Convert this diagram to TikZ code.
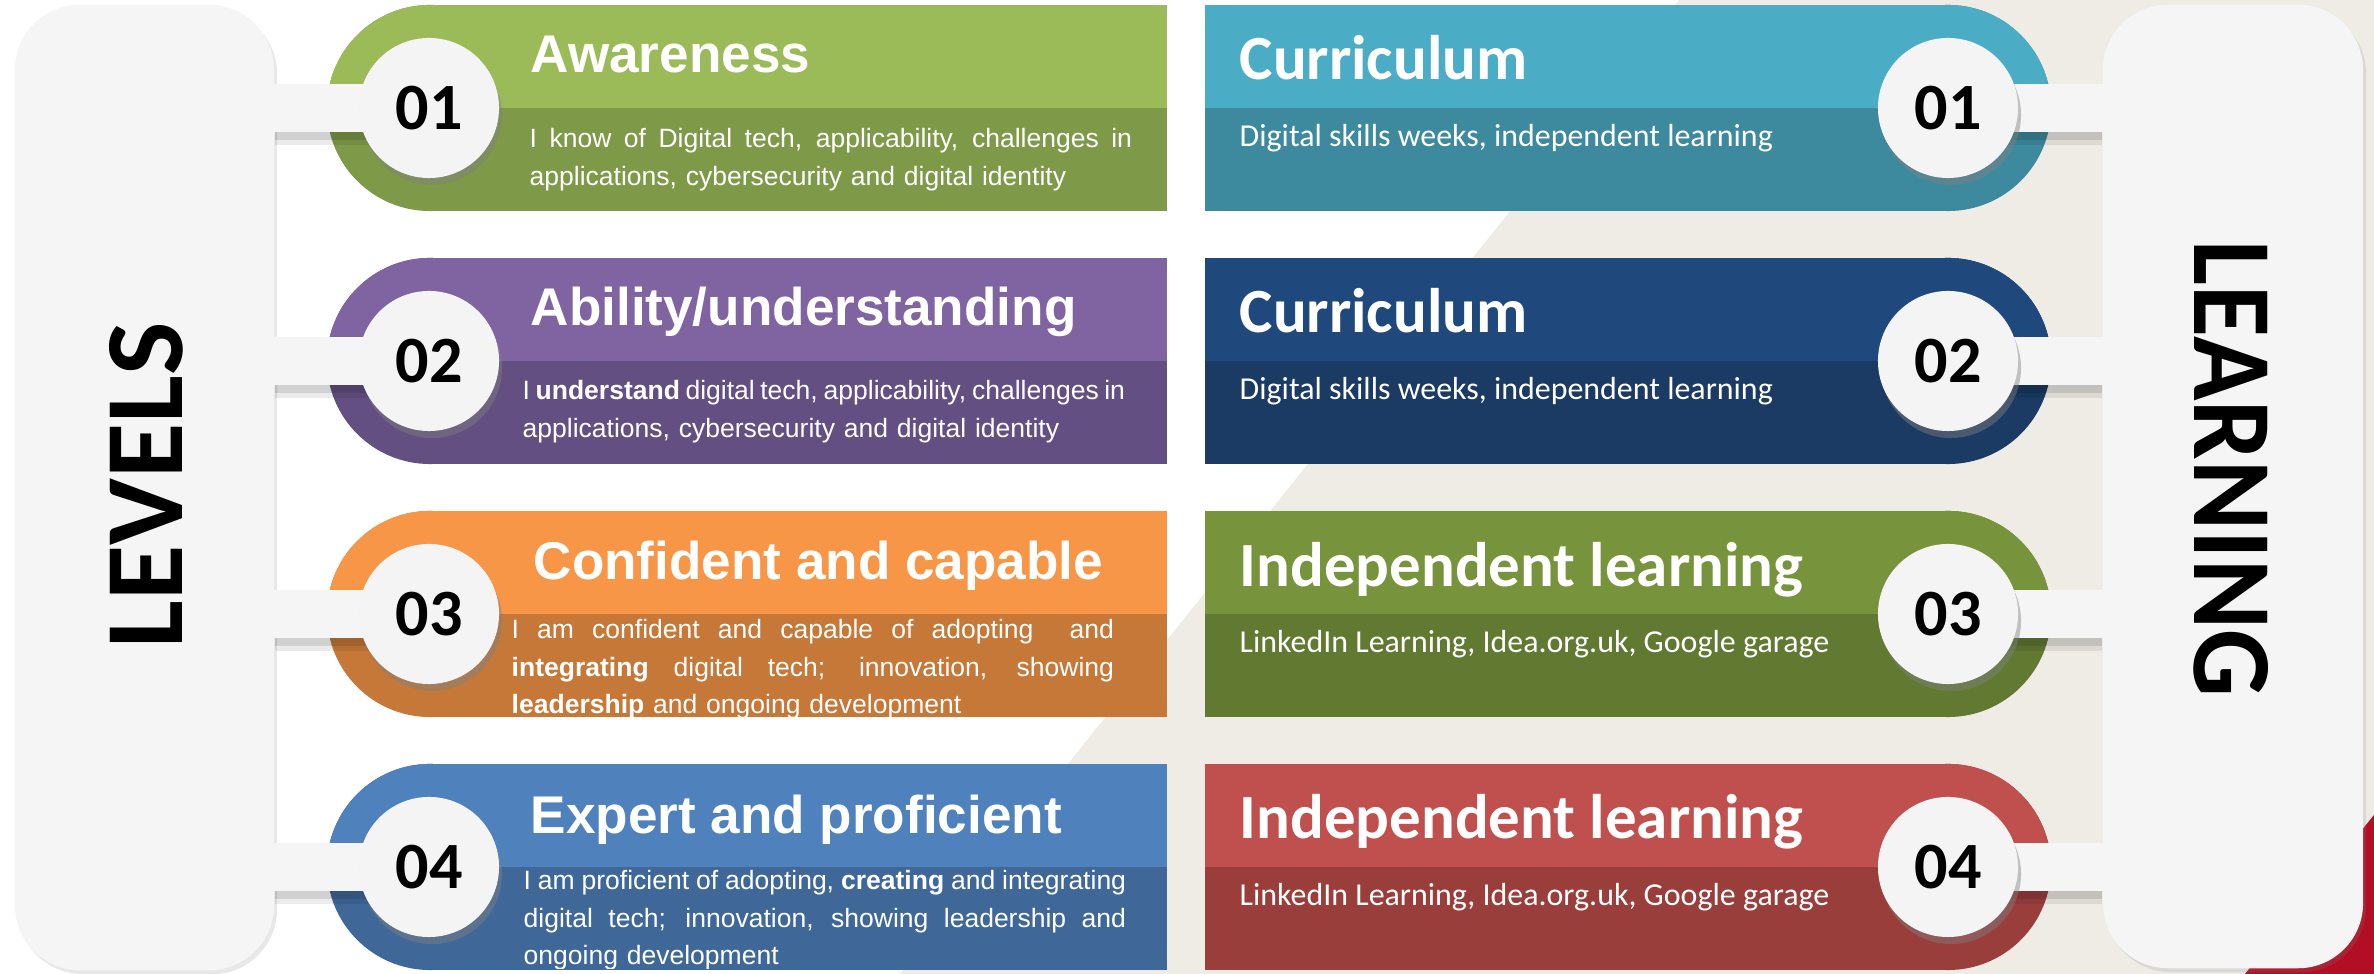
\documentclass[tikz,border=0pt]{standalone}
\usepackage{fontspec}
\setmainfont{Liberation Sans}
\newfontfamily\carlito{Carlito}
\usepackage{graphicx}
\usetikzlibrary{shadows}
\definecolor{greenA}{HTML}{9BBB59}\definecolor{greenB}{HTML}{7E9A48}
\definecolor{purpleA}{HTML}{8064A2}\definecolor{purpleB}{HTML}{644F82}
\definecolor{orangeA}{HTML}{F79646}\definecolor{orangeB}{HTML}{C67838}
\definecolor{blueA}{HTML}{4F81BD}\definecolor{blueB}{HTML}{3F6899}
\definecolor{tealA}{HTML}{4BACC6}\definecolor{tealB}{HTML}{3D8A9E}
\definecolor{navyA}{HTML}{1F497D}\definecolor{navyB}{HTML}{1B3A64}
\definecolor{oliveA}{HTML}{77933C}\definecolor{oliveB}{HTML}{627931}
\definecolor{redA}{HTML}{C0504D}\definecolor{redB}{HTML}{9A3E3C}
\definecolor{beigebg}{HTML}{EFECE6}
\definecolor{panelgray}{HTML}{F5F5F5}
\definecolor{circgray}{HTML}{F4F4F4}
\definecolor{redcorner}{HTML}{B20F24}
\newcommand\jline[1]{\leavevmode\hbox to 6.02cm{\spaceskip=0.278em plus 1fil minus 0.12em\relax #1}}
\begin{document}
\begin{tikzpicture}[x=0.01cm,y=-0.01cm,
  panelbox/.style={fill=panelgray, rounded corners=0.65cm, inner sep=0,
    drop shadow={shadow xshift=0.03cm, shadow yshift=-0.04cm, opacity=0.18}},
  numcirc/.style={circle, fill=circgray, minimum size=1.4cm, inner sep=0,
    font=\carlito\bfseries\fontsize{18.8}{20}\selectfont, text=black,
    drop shadow={shadow xshift=0.03cm, shadow yshift=-0.07cm, opacity=0.45}},
  bar/.style={line width=0.48cm, panelgray},
  barshadow/.style={fill=black, opacity=0.18},
  ltitle/.style={font=\bfseries\fontsize{15.1}{18}\selectfont, text=white, inner sep=0, anchor=base west},
  ldesc/.style={font=\fontsize{7.54}{10.6}\selectfont, text=white, inner sep=0, anchor=base west, align=left, text width=6.02cm},
  rtitle/.style={font=\carlito\bfseries\fontsize{17.9}{20}\selectfont, text=white, inner sep=0, anchor=base west},
  rdesc/.style={font=\carlito\fontsize{9.08}{11}\selectfont, text=white, inner sep=0, anchor=base west},
  vtext/.style={font=\carlito\bfseries, text=black, inner sep=0}
]
\useasboundingbox (0,0) rectangle (2374,974);
% background
\fill[white] (0,0) rectangle (2374,974);
\fill[beigebg] (1679,0) -- (2374,0) -- (2374,974) -- (900,974) -- cycle;
\fill[redcorner] (2374,815) -- (2374,974) -- (2245,974) -- cycle;

% side panels
\node[panelbox, minimum width=2.59cm, minimum height=9.65cm] (levels) at (144.5,487.5) {};
\node[panelbox, minimum width=2.60cm, minimum height=9.63cm] (learning) at (2233,486.5) {};

% left bands
\foreach \c/\ca/\cb in {108/greenA/greenB, 361/purpleA/purpleB, 614/orangeA/orangeB, 867/blueA/blueB}{
  \fill[\cb] (430,\c) circle[radius=1.03cm];
  \fill[\cb] (430,\c-103) rectangle (1167,\c+103);
  \begin{scope}
    \clip (0,\c-110) rectangle (2374,\c);
    \fill[\ca] (430,\c) circle[radius=1.03cm];
    \fill[\ca] (430,\c-103) rectangle (1167,\c+103);
  \end{scope}
}
% right bands
\foreach \c/\ca/\cb in {108/tealA/tealB, 361/navyA/navyB, 614/oliveA/oliveB, 867/redA/redB}{
  \fill[\cb] (1948,\c) circle[radius=1.03cm];
  \fill[\cb] (1205,\c-103) rectangle (1948,\c+103);
  \begin{scope}
    \clip (0,\c-110) rectangle (2374,\c);
    \fill[\ca] (1948,\c) circle[radius=1.03cm];
    \fill[\ca] (1205,\c-103) rectangle (1948,\c+103);
  \end{scope}
}

% number circle centres
\foreach \i/\c in {1/108, 2/361, 3/614, 4/867}{
  \coordinate (LC\i) at (429,\c);
  \coordinate (RC\i) at (1948,\c);
}
% bar shadows and bars
\foreach \i in {1,2,3,4}{
  \fill[barshadow] (levels.east |- LC\i) ++(0,24) rectangle ++(140,8);
  \fill[barshadow, opacity=0.08] (levels.east |- LC\i) ++(0,32) rectangle ++(140,5);
  \fill[barshadow] (learning.west |- RC\i) ++(0,24) rectangle ++(-140,8);
  \fill[barshadow, opacity=0.08] (learning.west |- RC\i) ++(0,32) rectangle ++(-140,5);
  \draw[bar] ([xshift=-0.02cm]levels.east |- LC\i) -- (LC\i);
  \draw[bar] ([xshift=0.02cm]learning.west |- RC\i) -- (RC\i);
}
\node[numcirc] (L1) at (LC1) {01};
\node[numcirc] (L2) at (LC2) {02};
\node[numcirc] (L3) at (LC3) {03};
\node[numcirc] (L4) at (LC4) {04};
\node[numcirc] (R1) at (RC1) {01};
\node[numcirc] (R2) at (RC2) {02};
\node[numcirc] (R3) at (RC3) {03};
\node[numcirc] (R4) at (RC4) {04};

% vertical labels
\node[vtext, rotate=90] (levtxt) at (146.5,485) {\resizebox{3.26cm}{0.73cm}{LEVELS}};
\node[vtext, rotate=-90] (learntxt) at (2231,469) {\resizebox{4.56cm}{0.74cm}{LEARNING}};

% left titles
\node[ltitle] (t1) at (530,73) {Awareness};
\node[ltitle] (t2) at (530,326) {Ability/understanding};
\node[ltitle] (t3) at (533,580) {Confident and capable};
\node[ltitle] (t4) at (530,834) {Expert and proficient};

% left descriptions
\node[ldesc] (d1) at (529,148) {\jline{I know of Digital tech, applicability, challenges in}\\applications, cybersecurity and digital identity};
\node[ldesc] (d2) at (522,400) {\jline{I \textbf{understand} digital tech, applicability, challenges in}\\applications, cybersecurity and digital identity};
\begin{scope}
  \clip (430,511) rectangle (1167,717);
  \node[ldesc] (d3) at (511,639) {\jline{I am confident and capable of adopting \ and}\\\jline{\textbf{integrating} digital tech; innovation, showing}\\\textbf{leadership} and ongoing development};
\end{scope}
\begin{scope}
  \clip (430,764) rectangle (1167,969);
  \node[ldesc] (d4) at (523,890) {\jline{I am proficient of adopting, \textbf{creating} and integrating}\\\jline{digital tech; innovation, showing leadership and}\\ongoing development};
\end{scope}

% right titles and descriptions
\node[rtitle] (rt1) at (1239,80) {Curriculum};
\node[rtitle] (rt2) at (1239,333) {Curriculum};
\node[rtitle] (rt3) at (1239,587) {Independent learning};
\node[rtitle] (rt4) at (1239,839) {Independent learning};
\node[rdesc] (rd1) at (1239,147) {Digital skills weeks, independent learning};
\node[rdesc] (rd2) at (1239,400) {Digital skills weeks, independent learning};
\node[rdesc] (rd3) at (1239,653) {LinkedIn Learning, Idea.org.uk, Google garage};
\node[rdesc] (rd4) at (1239,906) {LinkedIn Learning, Idea.org.uk, Google garage};
\end{tikzpicture}
\end{document}
